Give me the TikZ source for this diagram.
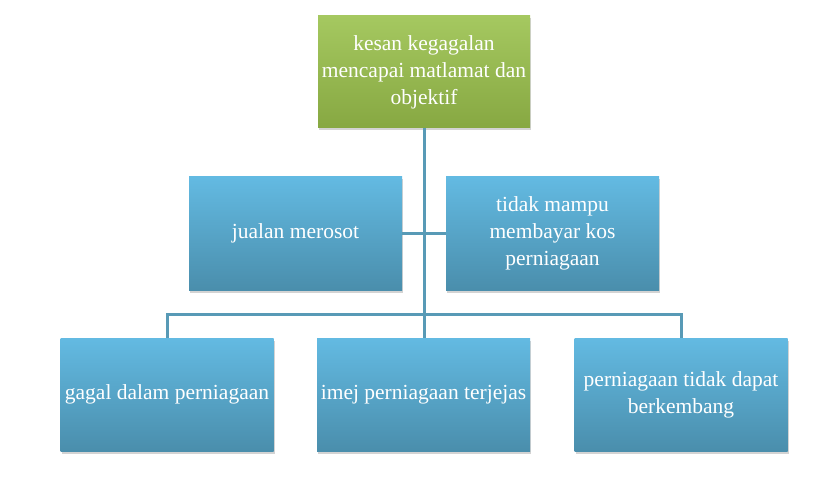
\documentclass[tikz,border=0pt]{standalone}
\usepackage{fontspec}
\setmainfont{Liberation Serif}
\usepackage{tikz}
\usetikzlibrary{positioning,shapes,shadows,arrows}
\usepackage{xcolor}
\definecolor{goaltop}{RGB}{165,200,96}
\definecolor{goalbot}{RGB}{135,168,66}
\definecolor{effecttop}{RGB}{99,186,226}
\definecolor{effectbot}{RGB}{74,142,172}
\definecolor{linkline}{RGB}{88,154,182}
\tikzstyle{goal}=[rectangle, draw=none, top color=goaltop, bottom color=goalbot,
drop shadow={opacity=0.35, shadow xshift=1pt, shadow yshift=-2.5pt},
text centered, align=center, text=white, minimum width=212pt, minimum height=112pt,
font=\fontsize{21.5}{27}\selectfont]
\tikzstyle{effect}=[goal, top color=effecttop, bottom color=effectbot, minimum width=213pt, minimum height=113pt]
\tikzstyle{link}=[draw=linkline, line width=3pt]

\begin{document}
\begin{tikzpicture}[x=1pt, y=-1pt]
            \useasboundingbox (0,0) rectangle (829,486);
            \coordinate (bus) at (424,314);
            \node (1)[goal] at (424,72) {kesan kegagalan\\mencapai matlamat dan\\objektif};
            \node (2)[effect] at (295.5,233.5) {jualan merosot};
            \node (3)[effect] at (552.5,233.5) {tidak mampu\\membayar kos\\perniagaan};
            \node (4)[effect] at (167,394.5) {gagal dalam perniagaan};
            \node (5)[effect] at (423.5,394.5) {imej perniagaan terjejas};
            \node (6)[effect] at (681,394.5) {perniagaan tidak dapat\\berkembang};
            % tree lines
            \draw[link] (1.south) -- (5.north -| 1.south);
            \draw[link] (2.east) -- (3.west);
            \draw[link] (4.north) |- (bus) -| (6.north);
        \end{tikzpicture}
\end{document}
